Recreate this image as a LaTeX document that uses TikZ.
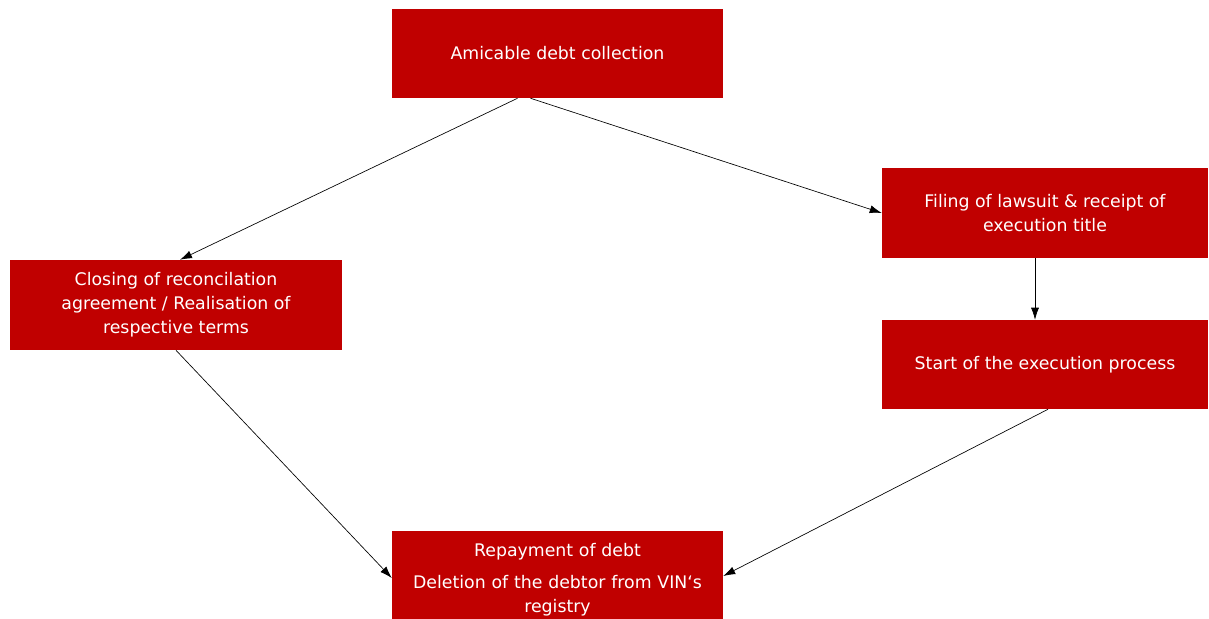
\documentclass[tikz,border=0pt]{standalone}
\usepackage{fontspec}
\setmainfont{DejaVu Sans}
\usetikzlibrary{calc,arrows.meta}
\definecolor{boxred}{RGB}{192,0,0}
\begin{document}
\begin{tikzpicture}[x=0.75pt,y=-0.75pt,
		stage/.style={fill=boxred,text=white,align=center,inner sep=0pt,
			font=\fontsize{13}{18}\selectfont},
		link/.style={-{Latex[length=9pt,width=6pt]},line width=0.5pt}]
	\useasboundingbox (0,0) rectangle (1209,618);

	\node [stage,minimum width=331*0.75pt,minimum height=89*0.75pt] (amicable) at (557.5,53.5)
		{Amicable debt collection};
	\node [stage,minimum width=326*0.75pt,minimum height=90*0.75pt] (lawsuit) at (1045,213)
		{Filing of lawsuit \& receipt of\\execution title};
	\node [stage,minimum width=332*0.75pt,minimum height=90*0.75pt] (closing) at (176,305)
		{Closing of reconcilation\\agreement / Realisation of\\respective terms};
	\node [stage,minimum width=326*0.75pt,minimum height=89*0.75pt] (execution) at (1045,364.5)
		{Start of the execution process};
	\node [stage,anchor=north,text width=331*0.75pt,inner ysep=8.75pt] (repay) at (557.5,531)
		{Repayment of debt\\[6pt]Deletion of the debtor from VIN‘s\\registry\\[14pt]\mbox{}};

	\draw [link] ($(amicable.south)+(-40,0)$) -- ($(closing.north)+(4,0)$);
	\draw [link] ($(amicable.south)+(-27,0)$) -- (lawsuit.west);
	\draw [link] ($(lawsuit.south)+(-10,0)$) -- ($(execution.north)+(-10,0)$);
	\draw [link] (closing.south) -- ($(repay.north west)+(0,47)$);
	\draw [link] ($(execution.south)+(3,0)$) -- ($(repay.north east)+(0,45)$);
\end{tikzpicture}
\end{document}
